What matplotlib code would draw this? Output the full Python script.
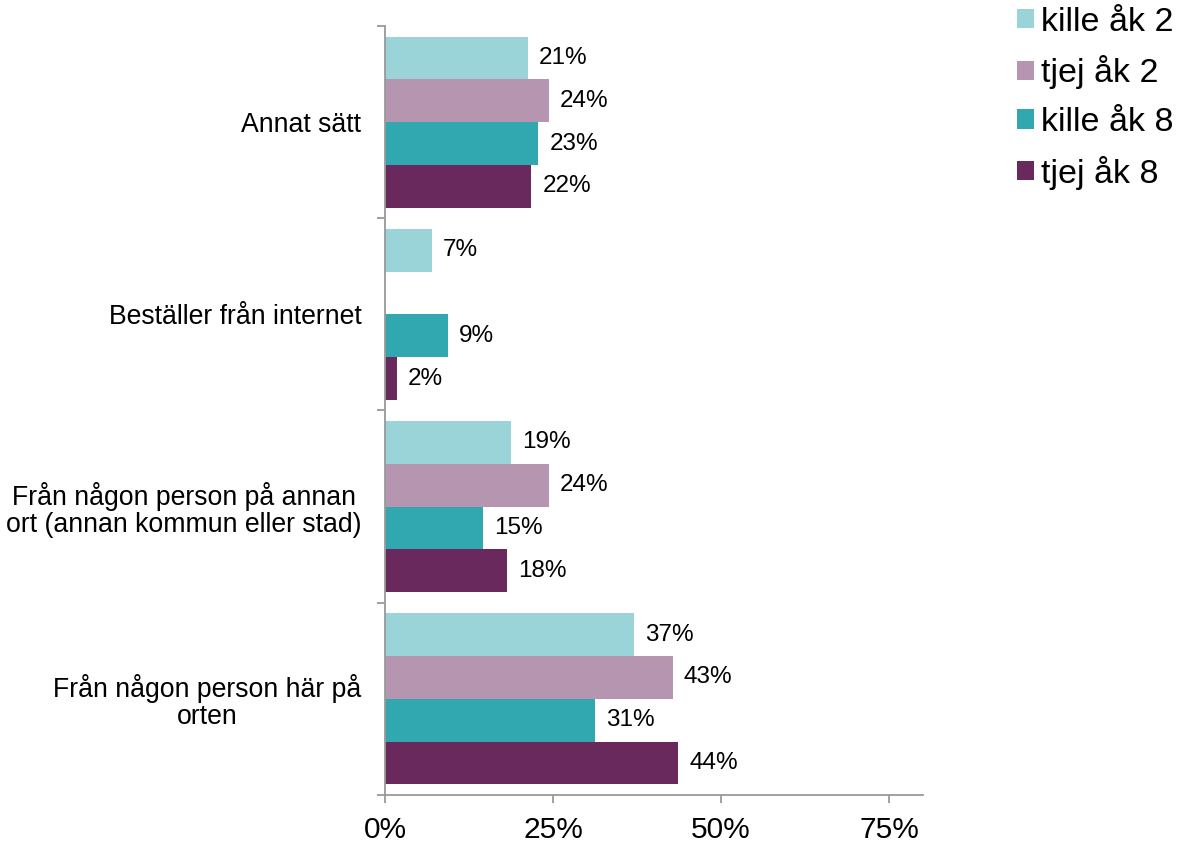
import numpy as np
import matplotlib
matplotlib.use("Agg")
import matplotlib.pyplot as plt
from matplotlib.patches import Patch

plt.rcParams['font.family'] = ['Liberation Sans', 'DejaVu Sans']

categories = ["Annat sätt",
              "Beställer från internet",
              "Från någon person på annan\nort (annan kommun eller stad)",
              "Från någon person här på\norten"]
series_names = ["kille åk 2", "tjej åk 2", "kille åk 8", "tjej åk 8"]
kille_ak2 = [21.3, 7.0, 18.7, 37.1]
tjej_ak2 = [24.4, np.nan, 24.4, 42.8]
kille_ak8 = [22.8, 9.4, 14.6, 31.2]
tjej_ak8 = [21.8, 1.8, 18.1, 43.6]
labels_k2 = ["21%", "7%", "19%", "37%"]
labels_t2 = ["24%", "", "24%", "43%"]
labels_k8 = ["23%", "9%", "15%", "31%"]
labels_t8 = ["22%", "2%", "18%", "44%"]
xticks = [0, 25, 50, 75]
xticklabels = ["0%", "25%", "50%", "75%"]

colors = ["#9BD4D8", "#B695B0", "#31A8B0", "#69295D"]
series = [kille_ak2, tjej_ak2, kille_ak8, tjej_ak8]
slabels = [labels_k2, labels_t2, labels_k8, labels_t8]

fig = plt.figure(figsize=(11.79, 8.47), dpi=100)
ax = fig.add_axes([0.3265, 0.0614, 0.7826 - 0.3265, 0.9693 - 0.0614])

n = len(categories)
centers = np.arange(n)[::-1].astype(float)  # top category at top
bh = 0.2225
for j, (vals, col, labs) in enumerate(zip(series, colors, slabels)):
    y = centers + (1.5 - j) * bh
    v = np.nan_to_num(np.array(vals, dtype=float), nan=0.0)
    bars = ax.barh(y, v, height=bh, color=col, edgecolor='none')
    ax.bar_label(bars, labels=labs, padding=8, fontsize=17.5, color='black')

ax.set_xlim(0, 80)
ax.set_ylim(-0.5, n - 0.5)
ax.set_xticks(xticks)
ax.set_xticklabels(xticklabels, fontsize=21.5)
ax.set_yticks(np.arange(n + 1) - 0.5)
ax.set_yticklabels([])
ax.set_yticks(centers, labels=categories, minor=True)
ax.tick_params(axis='y', which='minor', length=0, pad=17, labelsize=19.2)
for t in ax.get_yticklabels(minor=True):
    t.set_multialignment('center')
    t.set_linespacing(1.05)
ax.tick_params(axis='y', which='major', length=6, width=1.3, color='#999999', direction='out')
ax.tick_params(axis='x', which='major', length=6, width=1.3, color='#999999', direction='out', pad=9)
for s in ['top', 'right']:
    ax.spines[s].set_visible(False)
for s in ['left', 'bottom']:
    ax.spines[s].set_color('#999999')
    ax.spines[s].set_linewidth(1.3)

handles = [Patch(facecolor=c, edgecolor='none') for c in colors]
fig.legend(handles, series_names, loc='upper left', bbox_to_anchor=(0.8625, 0.992),
           frameon=False, fontsize=24.5, handlelength=0.5, handleheight=0.5,
           handletextpad=0.2, labelspacing=0.52, borderpad=0, borderaxespad=0)

fig.savefig("out.png", dpi=100)
